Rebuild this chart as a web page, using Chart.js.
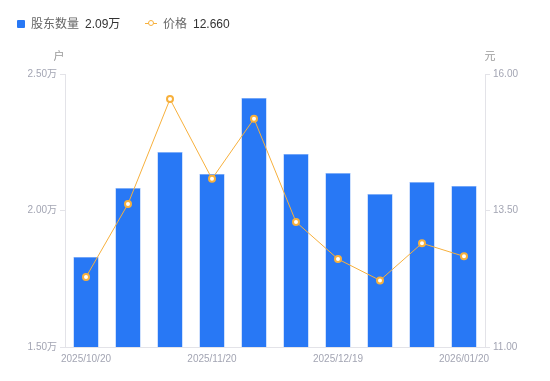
<!DOCTYPE html>
<html>
<head>
<meta charset="utf-8">
<script src="https://cdn.jsdelivr.net/npm/chart.js@4/dist/chart.umd.min.js"></script>
<style>
  html, body { margin: 0; padding: 0; background: #fff; }
  #wrap { position: relative; width: 550px; height: 381px; }
  canvas { position: absolute; left: 0; top: 0; }
  .lg { position: absolute; font-family: "Liberation Sans", "Noto Sans CJK SC", sans-serif; font-size: 12px; line-height: 14px; white-space: nowrap; }
  .nm { color: #666; }
  .vl { color: #333; }
</style>
</head>
<body>
<div id="wrap">
  <canvas id="c" width="550" height="381"></canvas>
  <div class="lg" style="left:17px;top:20px;width:8px;height:8px;background:#2878f5;border-radius:1px;"></div>
  <div class="lg nm" id="n1" style="left:31px;top:17px;"></div>
  <div class="lg vl" id="v1" style="left:85px;top:17px;"></div>
  <div class="lg" style="left:145px;top:23px;width:12px;height:1px;background:#f7b03c;"></div>
  <div class="lg" style="left:148px;top:20px;width:4px;height:4px;border:1.5px solid #f7b03c;border-radius:50%;background:#fff;"></div>
  <div class="lg nm" id="n2" style="left:163px;top:17px;"></div>
  <div class="lg vl" id="v2" style="left:193px;top:17px;"></div>
</div>
<script>
const categories = ["2025/10/20","2025/10/31","2025/11/10","2025/11/20","2025/11/28","2025/12/10","2025/12/19","2025/12/31","2026/01/09","2026/01/20"];
const holders = [18300, 20820, 22140, 21340, 24120, 22070, 21370, 20600, 21040, 20900];
const prices = [12.28, 13.62, 15.54, 14.08, 15.18, 13.29, 12.61, 12.22, 12.90, 12.66];
const seriesNames = ["股东数量", "价格"];
const leftTicks = [15000, 20000, 25000];
const rightTicks = [11.00, 13.50, 16.00];
const units = ["户", "元"];

document.getElementById('n1').textContent = seriesNames[0];
document.getElementById('v1').textContent = (holders[holders.length-1]/10000).toFixed(2) + '万';
document.getElementById('n2').textContent = seriesNames[1];
document.getElementById('v2').textContent = prices[prices.length-1].toFixed(3);

const FONT = '"Liberation Sans", "Noto Sans CJK SC", sans-serif';
const TICK_COLOR = '#a3a5b3';
const AXIS_COLOR = '#e3e3e8';

const unitPlugin = {
  id: 'units',
  afterDraw(chart) {
    const ctx = chart.ctx;
    ctx.save();
    ctx.font = '11px ' + FONT;
    ctx.fillStyle = '#999';
    ctx.textAlign = 'center';
    ctx.textBaseline = 'middle';
    const ca = chart.chartArea;
    ctx.fillText(units[0], ca.left - 6, 57);
    ctx.fillText(units[1], ca.right + 5, 57);
    ctx.restore();
  }
};

new Chart(document.getElementById('c'), {
  data: {
    labels: categories,
    datasets: [
      {
        type: 'line', label: seriesNames[1], data: prices, yAxisID: 'y1', order: 0,
        borderColor: '#f7b03c', borderWidth: 1, tension: 0,
        pointRadius: 3, pointBorderWidth: 2, pointBackgroundColor: '#fff', pointBorderColor: '#f7b03c',
        pointHoverRadius: 3
      },
      {
        type: 'bar', label: seriesNames[0], data: holders, yAxisID: 'y', order: 1,
        backgroundColor: '#2878f5', borderColor: '#7aaaf8', borderWidth: 0.6,
        categoryPercentage: 1, barPercentage: 0.6
      }
    ]
  },
  options: {
    responsive: false,
    animation: false,
    layout: { padding: { left: 0, right: 0, top: 74, bottom: 0 } },
    plugins: { legend: { display: false }, tooltip: { enabled: false } },
    scales: {
      x: {
        grid: { display: false, drawTicks: false },
        border: { display: true, color: AXIS_COLOR },
        ticks: {
          autoSkip: false, maxRotation: 0, minRotation: 0, padding: 6,
          color: TICK_COLOR, font: { family: FONT, size: 10 },
          callback: function(v, i) { return i % 3 === 0 ? categories[i] : ''; }
        },
        afterFit(s) { s.height = 34; }
      },
      y: {
        position: 'left', min: leftTicks[0], max: leftTicks[leftTicks.length-1],
        afterBuildTicks(s) { s.ticks = leftTicks.map(v => ({ value: v })); },
        grid: { drawOnChartArea: false, drawTicks: true, tickLength: 5, color: AXIS_COLOR },
        border: { display: true, color: AXIS_COLOR },
        ticks: {
          padding: 3, color: TICK_COLOR, font: { family: FONT, size: 10 },
          callback: v => (v/10000).toFixed(2) + '万'
        },
        afterFit(s) { s.width = 65; }
      },
      y1: {
        position: 'right', min: rightTicks[0], max: rightTicks[rightTicks.length-1],
        afterBuildTicks(s) { s.ticks = rightTicks.map(v => ({ value: v })); },
        grid: { drawOnChartArea: false, drawTicks: true, tickLength: 5, color: AXIS_COLOR },
        border: { display: true, color: AXIS_COLOR },
        ticks: {
          padding: 3, color: TICK_COLOR, font: { family: FONT, size: 10 },
          callback: v => Number(v).toFixed(2)
        },
        afterFit(s) { s.width = 65; }
      }
    }
  },
  plugins: [unitPlugin]
});
</script>
</body>
</html>
